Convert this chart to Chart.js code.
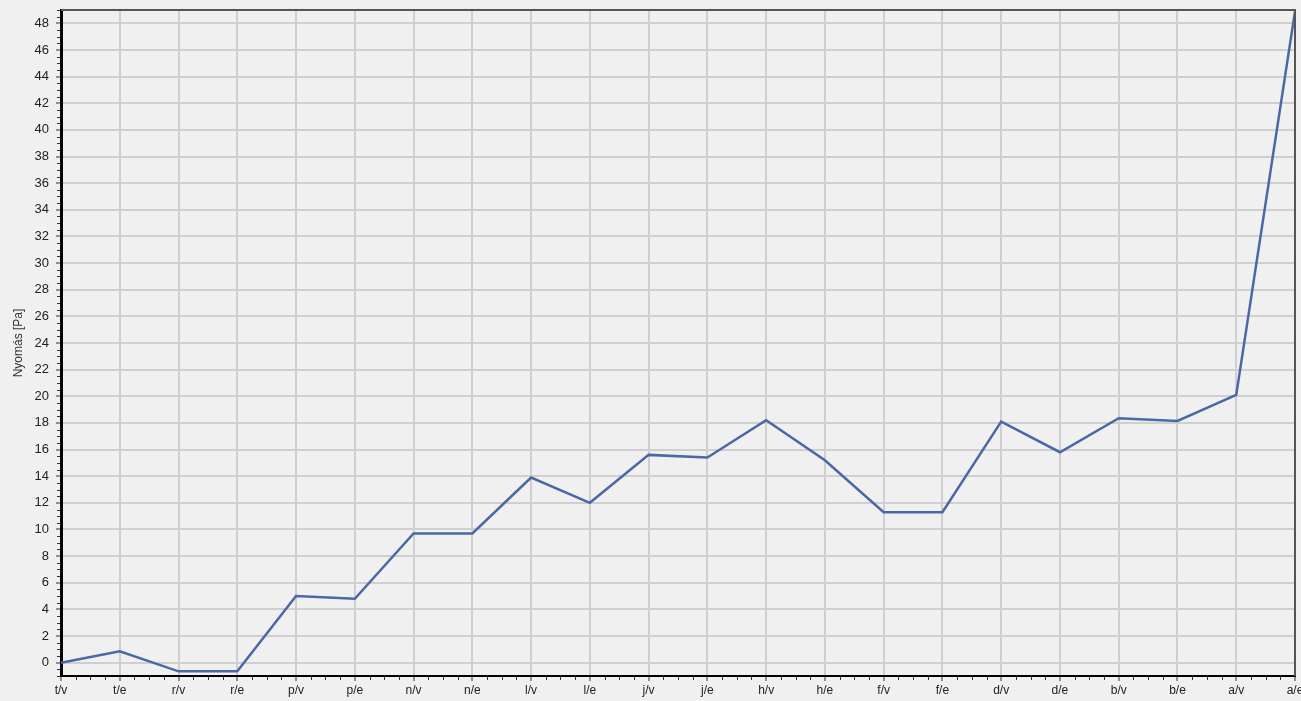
<!DOCTYPE html>
<html>
<head>
<meta charset="utf-8">
<script src="https://cdn.jsdelivr.net/npm/chart.js@4"></script>
<style>
  html, body { margin: 0; padding: 0; background: #f0f0f0; }
  #wrap { width: 1301px; height: 701px; }
</style>
</head>
<body>
<div id="wrap"><canvas id="nyomasChart"></canvas></div>
<script>
// Kategóriák (x tengely)
var pontok = ["t/v", "t/e", "r/v", "r/e", "p/v", "p/e", "n/v", "n/e", "l/v", "l/e", "j/v",
              "j/e", "h/v", "h/e", "f/v", "f/e", "d/v", "d/e", "b/v", "b/e", "a/v", "a/e"];
// Nyomás értékek [Pa]
var nyomas = [0, 0.85, -0.65, -0.65, 5.0, 4.8, 9.7, 9.7, 13.9, 12.0, 15.6,
              15.4, 18.2, 15.2, 11.3, 11.3, 18.1, 15.8, 18.35, 18.15, 20.1, 48.9];
// y tengely feliratai
var yFeliratok = [0, 2, 4, 6, 8, 10, 12, 14, 16, 18, 20, 22, 24, 26, 28, 30, 32, 34, 36, 38, 40, 42, 44, 46, 48];
var yMin = -1, yMax = 49;

// Keret és apró osztások
var keretPlugin = {
   id: "keret",
   afterDraw: function (chart) {
      var ctx = chart.ctx, a = chart.chartArea;
      var x = chart.scales.x, y = chart.scales.y;
      ctx.save();
      ctx.strokeStyle = "#555";
      ctx.lineWidth = 2;
      ctx.beginPath();
      ctx.moveTo(a.left, a.top);
      ctx.lineTo(a.right, a.top);
      ctx.lineTo(a.right, a.bottom);
      ctx.stroke();
      ctx.strokeStyle = "#333";
      ctx.lineWidth = 1;
      ctx.beginPath();
      for (var v = yMin; v <= yMax; v += 0.5) {
         if (yFeliratok.indexOf(v) >= 0) continue;
         var py = Math.round(y.getPixelForValue(v)) + 0.5;
         ctx.moveTo(a.left - 4, py);
         ctx.lineTo(a.left - 1, py);
      }
      for (var i = 0; i < pontok.length - 1; i++) {
         var p0 = x.getPixelForValue(i), p1 = x.getPixelForValue(i + 1);
         for (var k = 1; k < 4; k++) {
            var px = Math.round(p0 + (p1 - p0) * k / 4) + 0.5;
            ctx.moveTo(px, a.bottom + 1);
            ctx.lineTo(px, a.bottom + 4);
         }
      }
      ctx.stroke();
      ctx.restore();
   }
};

var nyomasChart = new Chart(
   document.getElementById("nyomasChart").getContext("2d"),
   {
      type: "line",
      data: {
         labels: pontok,
         datasets: [
            {
               label: "Nyomás",
               data: nyomas,
               borderColor: "#4a68a6",
               borderWidth: 2.5,
               pointRadius: 0,
               tension: 0,
               fill: false,
            },
         ],
      },
      options: {
         responsive: true,
         maintainAspectRatio: false,
         animation: false,
         layout: { padding: { top: 10, right: 6, left: 0, bottom: 0 } },
         plugins: {
            legend: { display: false },
            tooltip: { enabled: false },
         },
         scales: {
            x: {
               offset: false,
               grid: { color: "#cfcfcf", lineWidth: 2, tickLength: 5, tickColor: "#333", tickWidth: 1 },
               border: { color: "#000", width: 2 },
               ticks: {
                  color: "#222",
                  font: { family: "Liberation Sans", size: 12 },
                  padding: 2,
                  maxRotation: 0,
                  autoSkip: false,
               },
               afterFit: function (scale) {
                  scale.height = 25;
                  scale.paddingLeft = 0;
                  scale.paddingRight = 0;
               },
            },
            y: {
               min: yMin,
               max: yMax,
               ticks: {
                  color: "#222",
                  font: { family: "Liberation Sans", size: 13 },
                  padding: 7,
               },
               afterBuildTicks: function (scale) {
                  scale.ticks = yFeliratok.map(function (v) { return { value: v }; });
               },
               grid: { color: "#cfcfcf", lineWidth: 2, tickLength: 5, tickColor: "#333", tickWidth: 1 },
               border: { color: "#000", width: 3 },
               title: {
                  display: true,
                  text: "Nyomás [Pa]",
                  color: "#333",
                  font: { family: "Liberation Sans", size: 12 },
                  padding: { top: 11, bottom: 0 },
               },
               afterFit: function (scale) {
                  scale.width = 61;
                  scale.paddingTop = 0;
                  scale.paddingBottom = 0;
               },
            },
         },
      },
      plugins: [keretPlugin],
   }
);
</script>
</body>
</html>
